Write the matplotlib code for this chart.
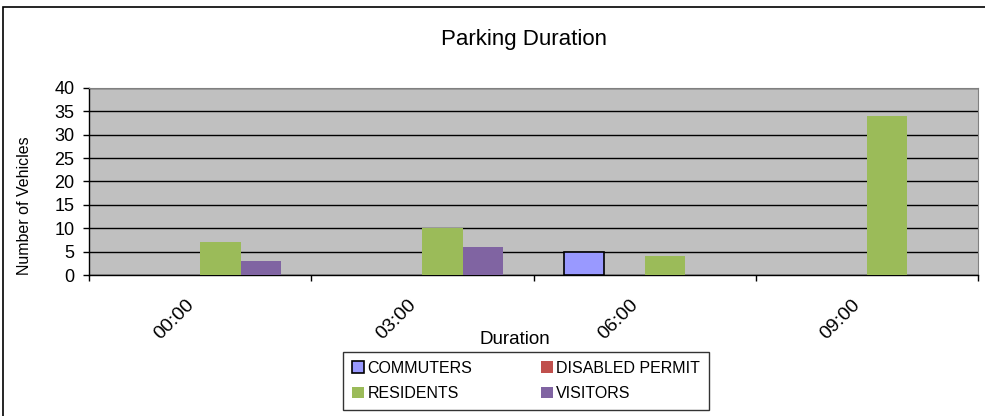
import matplotlib.pyplot as plt
import numpy as np
from matplotlib.patches import Rectangle
from matplotlib.transforms import ScaledTranslation

plt.rcParams['font.family'] = ['Liberation Sans', 'DejaVu Sans']

durations = ['00:00', '03:00', '06:00', '09:00']
commuters = [0, 0, 5, 0]
disabled_permit = [0, 0, 0, 0]
residents = [7, 10, 4, 34]
visitors = [3, 6, 0, 0]

series = [('COMMUTERS', commuters, '#9999FF'),
          ('DISABLED PERMIT', disabled_permit, '#C0504D'),
          ('RESIDENTS', residents, '#9BBB59'),
          ('VISITORS', visitors, '#8064A2')]


def main():
    fig = plt.figure(figsize=(9.85, 4.16), dpi=100)
    ax = fig.add_axes([89 / 985, 1 - 275 / 416, (978 - 89) / 985, (275 - 88) / 416])
    ax.set_facecolor('#C0C0C0')

    x = np.arange(len(durations))
    w = 1 / 5.5
    handles = []
    for k, (name, vals, col) in enumerate(series):
        off = (k - 1.5) * w
        if name == 'COMMUTERS':
            # only outline the bars that have height
            lws = [1.2 if v > 0 else 0 for v in vals]
            ax.bar(x + off, vals, w, color=col, edgecolor='black', linewidth=lws, zorder=3)
            handles.append(Rectangle((0, 0), 1, 1, facecolor=col, edgecolor='black', linewidth=1.2))
        else:
            ax.bar(x + off, vals, w, color=col, linewidth=0, zorder=3)
            handles.append(Rectangle((0, 0), 1, 1, facecolor=col, linewidth=0))

    ax.set_xlim(-0.5, len(durations) - 0.5)
    ax.set_ylim(0, 40)
    ax.set_yticks(range(0, 41, 5))
    ax.yaxis.grid(True, color='black', linewidth=1)
    ax.set_axisbelow(True)

    # ticks at category boundaries, labels drawn as text at centres
    ax.set_xticks(np.arange(-0.5, len(durations), 1))
    ax.set_xticklabels([])
    ax.tick_params(axis='x', length=4.5, width=1, direction='out')
    ax.tick_params(axis='y', length=4.5, width=1, labelsize=13, pad=6)
    off_tr = ax.get_xaxis_transform() + ScaledTranslation(-15 / 100, -21 / 100, fig.dpi_scale_trans)
    for i, lab in enumerate(durations):
        ax.text(x[i], 0, lab, transform=off_tr, rotation=45, rotation_mode='anchor',
                ha='right', va='top', fontsize=14, clip_on=False)

    for s in ['top', 'right']:
        ax.spines[s].set_color('#808080')
    for s in ['left', 'bottom']:
        ax.spines[s].set_color('black')
        ax.spines[s].set_linewidth(1)

    fig.text(25 / 985, 1 - 206 / 416, 'Number of Vehicles', fontsize=11.5, rotation=90,
             ha='center', va='center')
    fig.text(515 / 985, 1 - 340 / 416, 'Duration', fontsize=13.5, ha='center', va='center')
    fig.text(524 / 985, 1 - 40 / 416, 'Parking Duration', fontsize=16, ha='center', va='center')

    order = [handles[0], handles[2], handles[1], handles[3]]
    labels = ['COMMUTERS', 'RESIDENTS', 'DISABLED PERMIT', 'VISITORS']
    leg = fig.legend(order, labels, ncol=2, loc='center', bbox_to_anchor=(526 / 985, 1 - 381 / 416),
                     fontsize=11.5, frameon=True, fancybox=False, edgecolor='black',
                     handlelength=0.75, handleheight=0.75, handletextpad=0.2, columnspacing=4.3,
                     borderpad=0.55, labelspacing=0.65)
    leg.get_frame().set_linewidth(1)

    # outer chart border
    fig.patches.append(Rectangle((3 / 985, -0.05), 1.1, 1 - 7 / 416 + 0.05, transform=fig.transFigure,
                                 fill=False, edgecolor='black', linewidth=1.2))

    fig.savefig('out.png', dpi=100)


if __name__ == '__main__':
    main()
